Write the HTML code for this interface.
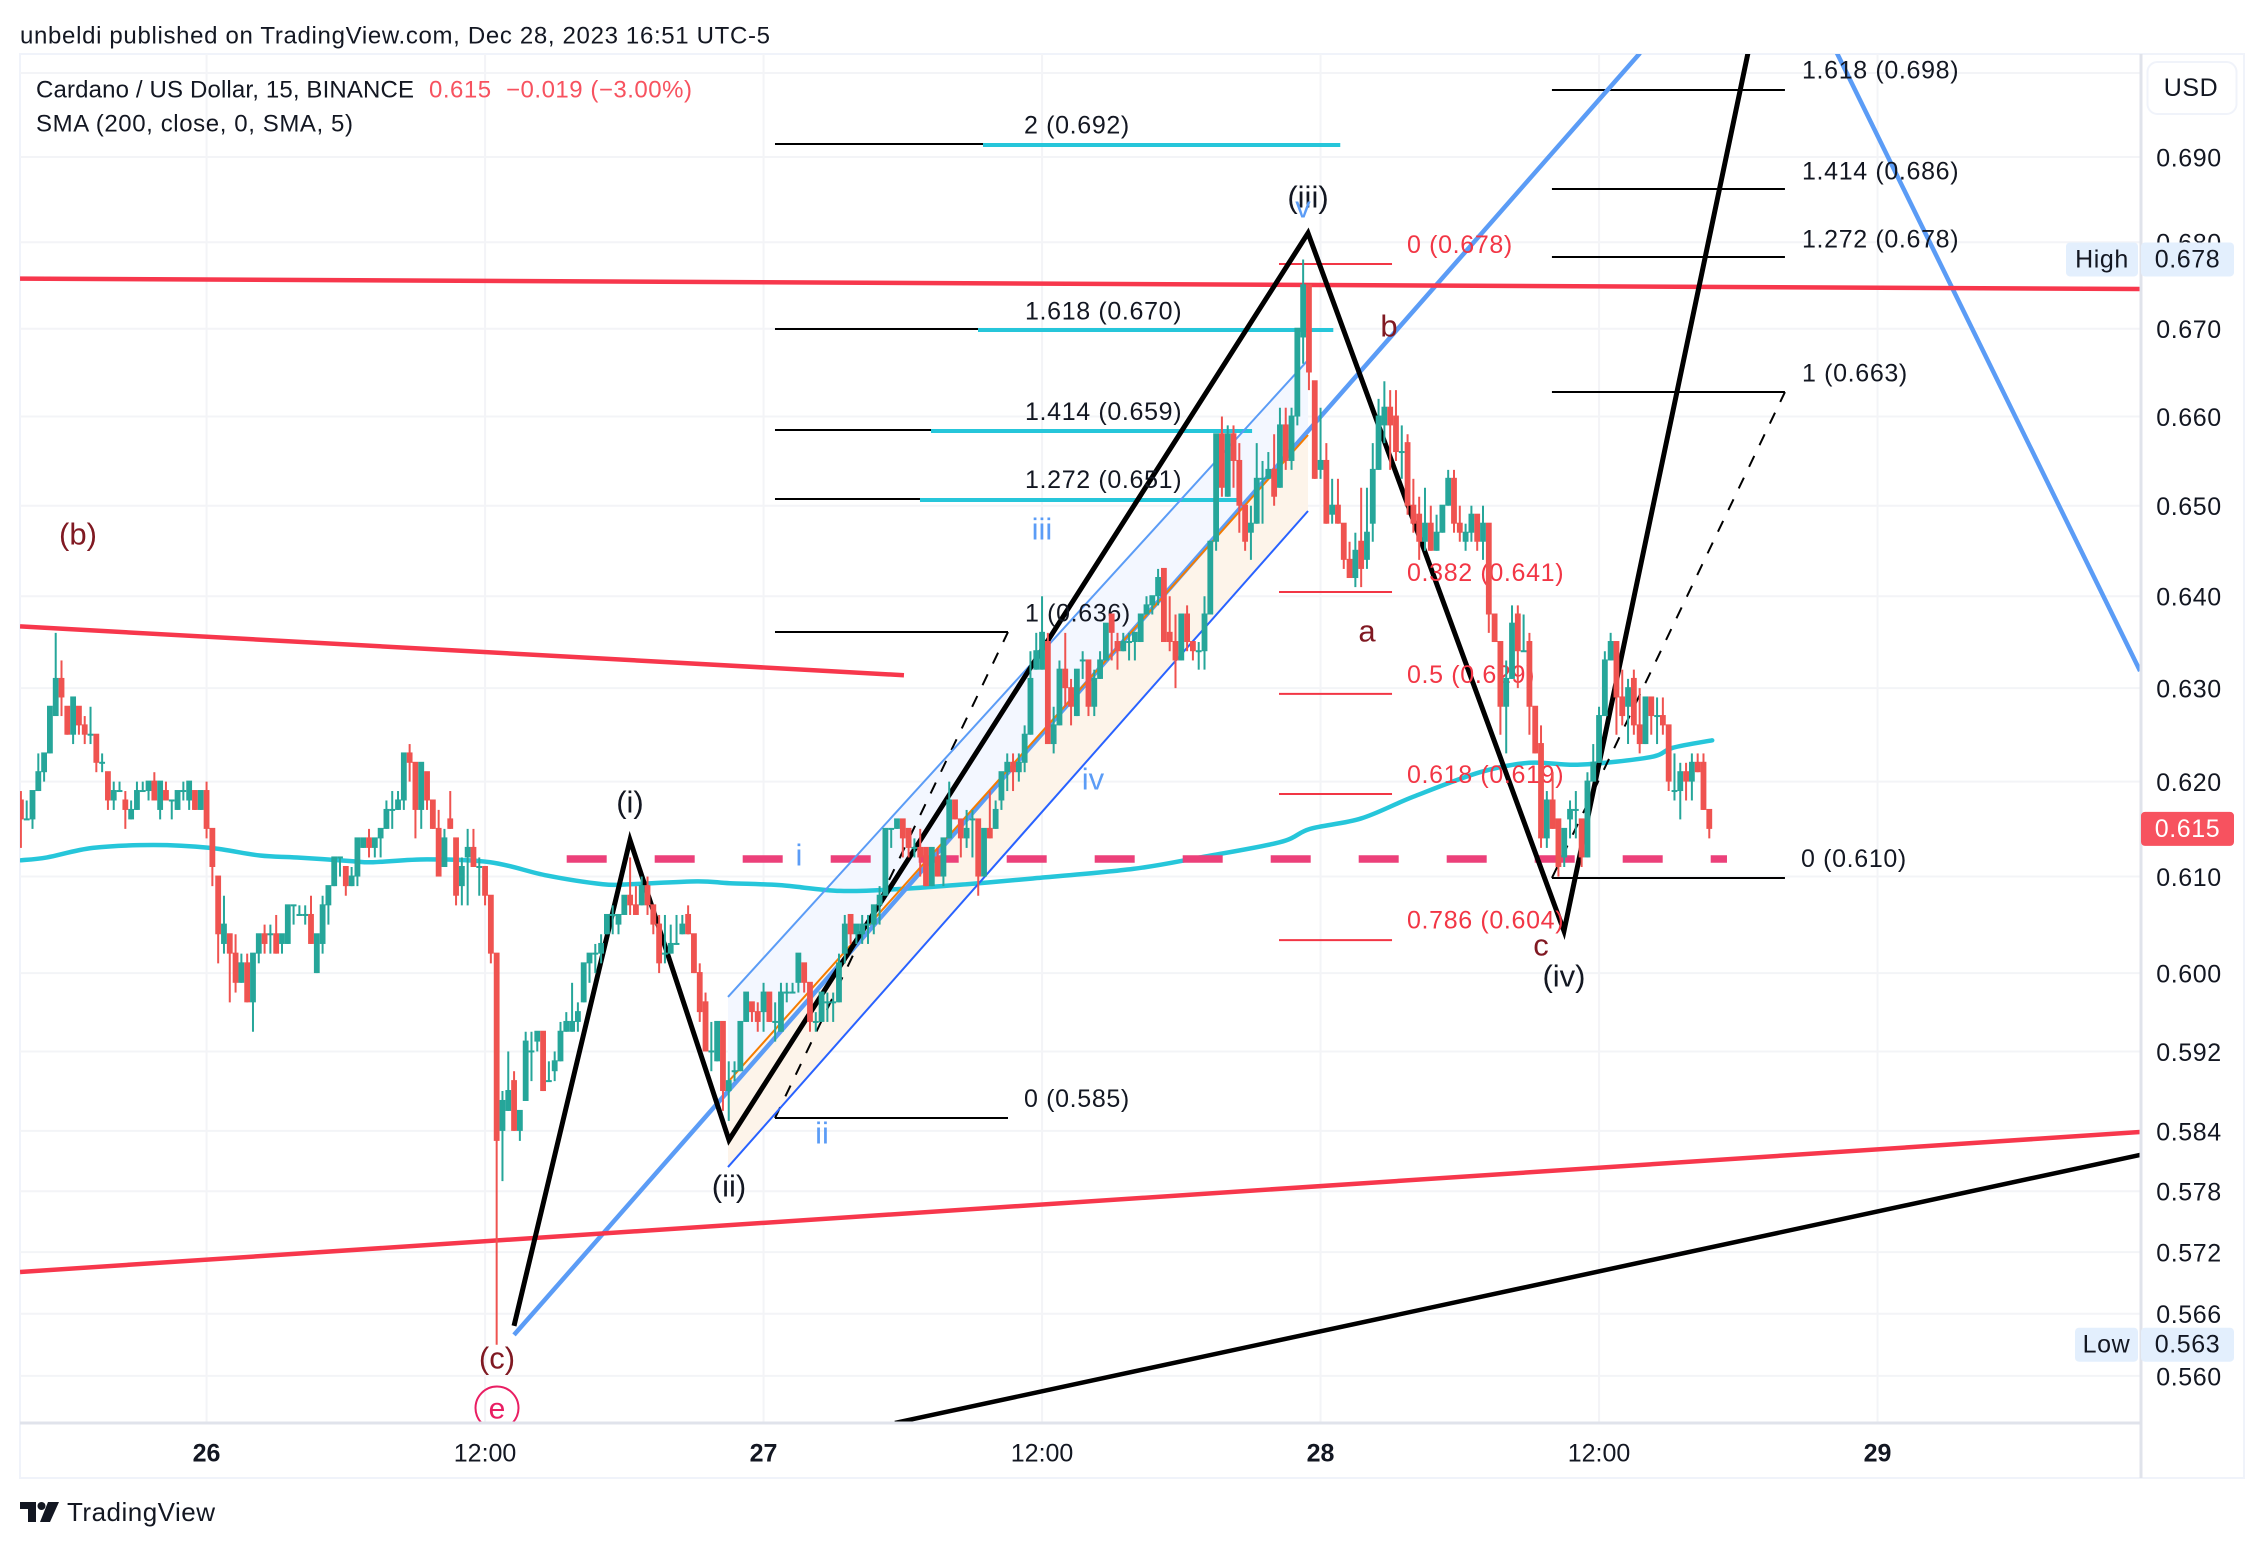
<!DOCTYPE html>
<html lang="en">
<head>
<meta charset="utf-8">
<title>Cardano / US Dollar chart</title>
<style>
html,body{margin:0;padding:0;background:#fff;}
svg{display:block;}
text{font-family:"Liberation Sans",sans-serif;dominant-baseline:central;}
.lab{font-size:25px;letter-spacing:.65px;fill:#131722;}
.fibr{font-size:25px;letter-spacing:.65px;fill:#f23645;}
.wave{font-size:31px;fill:#131722;text-anchor:middle;}
.dred{font-size:31px;fill:#801922;text-anchor:middle;}
.blue{font-size:31px;fill:#5b9cf6;text-anchor:middle;}
.tick{font-size:25px;letter-spacing:.6px;fill:#131722;text-anchor:middle;}
.time{font-size:25px;fill:#131722;text-anchor:middle;}
.head{font-size:24px;fill:#131722;}
</style>
</head>
<body>
<svg id="chart" xmlns="http://www.w3.org/2000/svg" width="2264" height="1548" viewBox="0 0 2264 1548">
  <defs><clipPath id="plot-clip"><rect x="20" y="54" width="2120" height="1369"/></clipPath></defs>
  <rect x="0" y="0" width="2264" height="1548" fill="#ffffff"/>
  <text class="head" x="20" y="36" textLength="750" lengthAdjust="spacing">unbeldi published on TradingView.com, Dec 28, 2023 16:51 UTC-5</text>
  <rect x="20" y="54" width="2224" height="1424" fill="none" stroke="#f0f3fa" stroke-width="2"/>
  <g id="grid"></g>
  <g clip-path="url(#plot-clip)">
    <g id="fills"></g>
    <g id="sma"></g>
    <g id="drawings"></g>
    <g>
      <text class="lab" x="1024" y="125.5">2 (0.692)</text>
      <text class="lab" x="1025" y="311.5">1.618 (0.670)</text>
      <text class="lab" x="1025" y="412">1.414 (0.659)</text>
      <text class="lab" x="1025" y="480">1.272 (0.651)</text>
      <text class="lab" x="1025" y="613.5">1 (0.636)</text>
      <text class="lab" x="1024" y="1099">0 (0.585)</text>
      <text class="lab" x="1802" y="70.5">1.618 (0.698)</text>
      <text class="lab" x="1802" y="171.5">1.414 (0.686)</text>
      <text class="lab" x="1802" y="239.5">1.272 (0.678)</text>
      <text class="lab" x="1802" y="373.5">1 (0.663)</text>
      <text class="lab" x="1801" y="859">0 (0.610)</text>
      <text class="fibr" x="1407" y="245">0 (0.678)</text>
      <text class="fibr" x="1407" y="573">0.382 (0.641)</text>
      <text class="fibr" x="1407" y="675">0.5 (0.629)</text>
      <text class="fibr" x="1407" y="775">0.618 (0.619)</text>
      <text class="fibr" x="1407" y="920.5">0.786 (0.604)</text>
    </g>
    <g>
      <text class="dred" x="78" y="534">(b)</text>
      <text class="dred" x="497" y="1358">(c)</text>
      <circle cx="497" cy="1408" r="21.5" fill="none" stroke="#e91e63" stroke-width="2"/>
      <text x="497" y="1409" font-size="30" fill="#e91e63" text-anchor="middle">e</text>
      <text class="wave" x="630" y="802">(i)</text>
      <text class="wave" x="729" y="1186">(ii)</text>
      <text class="wave" x="1308" y="197">(iii)</text>
      <text class="wave" x="1564" y="976">(iv)</text>
      <text class="dred" x="1367" y="631">a</text>
      <text class="dred" x="1389" y="326">b</text>
      <text class="dred" x="1541" y="945">c</text>
      <text class="blue" x="799" y="855">i</text>
      <text class="blue" x="822" y="1133">ii</text>
      <text class="blue" x="1042" y="529">iii</text>
      <text class="blue" x="1093" y="779">iv</text>
      <text class="blue" x="1303" y="207">v</text>
    </g>
    <g id="candles"></g>
  </g>
  <rect x="20" y="1421.5" width="2121" height="3" fill="#e0e3eb"/>
  <rect x="2139.5" y="54" width="3" height="1424" fill="#e0e3eb"/>
  <g id="price-axis"></g>
  <g id="time-axis"></g>
  <g>
    <text class="head" x="36" y="90" textLength="378" lengthAdjust="spacing">Cardano / US Dollar, 15, BINANCE</text>
    <text class="head" x="429" y="90" textLength="263" lengthAdjust="spacing" fill="#f7525f" style="fill:#f7525f;white-space:pre">0.615  −0.019 (−3.00%)</text>
    <text class="head" x="36" y="124" textLength="317" lengthAdjust="spacing">SMA (200, close, 0, SMA, 5)</text>
  </g>
  <g>
    <rect x="2147.5" y="62" width="89" height="52" rx="10" fill="#ffffff" stroke="#f0f3fa" stroke-width="2"/>
    <text class="tick" x="2191" y="88">USD</text>
  </g>
  <g id="tags"></g>
  <g>
    <path fill="#131722" d="M20 1502H36V1522H28V1509H20ZM48 1502H59L50 1522H40Z"/>
    <circle cx="41.5" cy="1506" r="4" fill="#131722"/>
    <text x="67" y="1512" font-size="26" fill="#131722" textLength="148" lengthAdjust="spacing">TradingView</text>
  </g>
</svg>
<script>
// Candle values in thousandths of a US dollar, one entry per 15-minute bar
const opens = [
618,616,616,619,621,623,627,631,628,625,
628,626,625,625,622,621,618,619,618,616,
617,619,619,620,617,619,618,617,619,618,
619,617,619,615,610,603,604,602,599,601,
597,602,604,604,604,603,603,607,606,606,
606,600,603,607,609,612,611,609,610,613,
614,613,614,615,617,617,618,623,622,617,
621,618,615,611,616,614,609,612,613,611,
611,608,602,584,586,589,584,587,592,593,
594,589,590,591,594,594,595,597,601,602,
602,604,606,605,606,608,607,607,609,607,
605,602,602,603,604,606,604,600,597,592,
591,595,588,590,590,595,597,596,596,598,
595,594,598,598,599,601,599,595,595,597,
597,597,602,606,604,604,605,605,607,608,
615,615,616,615,613,613,613,609,612,610,
614,618,616,614,616,616,610,615,615,618,
621,622,621,622,625,632,632,635,624,626,
632,630,627,633,633,628,631,633,638,635,
634,635,635,635,638,639,640,643,636,635,
633,638,635,634,634,638,646,658,651,658,
655,650,647,648,653,653,654,652,659,655,
660,669,675,664,654,655,649,650,648,644,
642,646,644,648,654,659,661,660,656,657,
650,649,646,648,645,647,650,653,648,646,
647,649,646,648,638,635,628,631,638,634,
635,628,624,614,618,616,612,616,617,616,
612,620,622,627,633,635,629,628,631,626,
624,629,627,627,626,619,619,621,620,622,
622,617];
const highs = [
619,618,619,623,623,628,636,633,628,629,
628,627,628,625,623,621,620,620,619,618,
620,620,620,621,620,620,618,619,620,620,
619,619,620,615,610,608,604,604,602,602,
602,604,605,605,606,604,607,607,607,607,
608,604,608,609,612,612,611,611,614,614,
615,614,615,618,619,619,623,624,622,622,
621,618,617,615,619,614,612,615,615,612,
611,608,602,588,592,590,586,594,594,594,
594,591,592,595,596,599,597,601,602,603,
604,606,607,606,608,612,609,610,610,607,
606,606,605,606,606,607,604,601,598,595,
595,595,591,591,595,598,597,597,599,598,
597,599,599,599,602,601,599,596,598,598,
598,602,606,606,605,606,606,607,609,615,
615,616,616,615,614,615,613,613,613,614,
620,618,616,617,617,616,615,619,618,621,
623,623,623,626,634,636,640,636,628,633,
636,631,632,634,633,632,634,637,638,636,
636,636,636,638,640,640,643,643,640,638,
638,639,635,635,640,646,658,660,659,659,
657,650,650,657,655,656,658,661,661,661,
670,678,675,664,661,657,653,653,648,646,
647,652,652,657,662,664,663,663,659,658,
653,651,652,650,649,650,654,654,650,648,
650,649,650,648,638,635,633,639,639,638,
636,628,626,619,621,616,615,618,619,616,
621,624,628,634,636,635,632,631,632,630,
629,629,629,629,626,623,622,622,623,623,
623,617];
const lows = [
613,616,615,619,620,623,627,627,625,624,
625,624,624,621,621,617,617,619,615,616,
617,619,618,618,616,618,616,617,618,617,
617,617,614,609,601,602,597,598,599,597,
594,601,602,602,602,602,603,605,606,605,
603,600,602,605,609,610,608,609,609,613,
612,612,612,615,615,617,617,620,614,615,
617,615,610,611,615,607,607,607,611,608,
607,601,563,579,586,584,583,587,589,592,
588,589,589,591,594,594,594,597,599,600,
601,604,604,604,606,606,606,607,606,604,
600,601,602,603,604,604,600,595,592,590,
591,586,585,589,590,595,595,594,594,595,
593,594,597,598,598,598,594,594,595,595,
595,597,601,603,603,603,603,604,605,608,
613,615,612,612,612,610,609,609,610,609,
614,616,612,613,612,608,610,614,615,617,
619,619,620,621,625,632,632,624,623,626,
628,626,627,631,627,627,631,633,633,632,
634,633,633,635,638,638,639,635,634,630,
633,634,633,632,632,638,645,651,651,652,
647,645,644,648,648,653,650,652,654,654,
659,666,663,653,653,648,648,648,643,642,
641,641,643,646,654,657,654,655,653,649,
647,644,645,645,645,647,650,647,646,645,
646,645,644,636,635,625,623,631,630,634,
625,623,613,613,615,610,611,614,614,611,
612,620,622,627,633,625,626,624,625,623,
624,625,624,625,619,618,616,618,618,621,
617,614];
const closes = [
616,616,619,621,623,628,631,629,625,629,
626,625,625,622,622,618,619,619,617,617,
619,619,620,618,620,618,618,619,619,620,
617,619,615,611,604,605,602,599,601,597,
602,604,603,604,602,604,607,607,606,606,
603,604,607,609,612,612,609,610,614,614,
613,614,615,617,617,618,623,622,617,622,
618,615,610,614,615,608,611,613,611,611,
608,602,583,587,588,584,586,593,592,594,
588,589,591,594,595,595,596,601,602,602,
603,606,606,606,608,607,606,609,607,605,
601,602,603,603,605,604,600,596,592,592,
595,588,589,590,595,598,596,595,598,595,
595,598,598,598,602,599,595,595,598,597,
597,601,605,604,605,605,605,607,608,615,
615,616,614,613,613,612,609,613,610,614,
618,616,614,615,616,610,615,614,617,621,
622,621,622,625,631,634,636,624,626,632,
630,628,632,633,628,631,633,637,636,634,
635,635,636,638,639,640,642,635,635,633,
638,635,634,634,638,646,658,652,658,655,
650,646,648,653,653,654,651,659,655,660,
670,675,665,653,655,648,650,648,644,642,
645,643,647,654,660,661,659,656,656,650,
648,646,648,645,647,650,653,648,647,647,
649,646,648,638,635,628,631,637,634,634,
628,623,614,618,615,611,615,617,617,612,
620,622,627,633,635,629,627,630,626,624,
629,627,627,626,620,619,621,620,622,621,
617,615];

// 200-period SMA read at sampled bars
const smaBars = [0,4.5,12.4,22.8,32.6,41.2,47.6,57.2,60.7,70,80.9,90.7,100.3,105,116.5,122.2,130.8,141.2,151.5,163,174.4,191.7,203.2,217,222.2,231,240,251.5,260,268.7,280.8,284.7,291.5];
const smaValues = [0.6117,0.612,0.613,0.6133,0.613,0.6122,0.612,0.6116,0.6115,0.6118,0.6115,0.6101,0.6092,0.6092,0.6095,0.6093,0.6091,0.6085,0.6087,0.6092,0.6098,0.6108,0.612,0.6136,0.615,0.6161,0.6184,0.621,0.622,0.6218,0.6226,0.6236,0.6244];

// Axis ticks
const priceTicks = [0.7,0.69,0.68,0.67,0.66,0.65,0.64,0.63,0.62,0.61,0.6,0.592,0.584,0.578,0.572,0.566,0.56];
const timeBars = [32,80,128,176,224,272,320];
const timeLabels = ['26','12:00','27','12:00','28','12:00','29'];
const timeBold = [true,false,true,false,true,false,true];

// Trendlines as [startBar, startPrice, endBar, endPrice]
const topResistance = [-0.15,0.67578,365.25,0.67458];
const fallingResistance = [-0.15,0.6367,152.2,0.6314];
const risingSupport = [-0.15,0.57006,365.25,0.58389];
const blackSupport = [150.65,0.55551,365.25,0.5816];
const blueRising = [84.99,0.56395,279.07,0.7024];
const blueFalling = [313,0.7024,365.25,0.63186];

// Elliott wave zigzag turning points
const waveBars = [84.99,104.98,122.04,221.84,265.96,297.67];
const wavePrices = [0.56482,0.61383,0.58309,0.68107,0.60434,0.7024];

// Regression channel
const channelBars = [121.87,221.84];
const channelTop = [0.59755,0.66642];
const channelMid = [0.58891,0.65792];
const channelBottom = [0.58039,0.64941];

// Fibonacci extension levels (left group)
const fibLeftBars = [129.97,170.13];
const fibLeftPrices = [0.58529,0.63609,0.65075,0.65848,0.66997,0.69154];
const fibLeftCyanStart = [154.96,156.86,164.96,165.82];
const fibLeftCyanEnd = [209.6,212.2,226.2,227.4];
const fibLeftCyanPrices = [0.65064,0.65837,0.66986,0.69142];

// Fibonacci extension levels (right group)
const fibRightBars = [263.88,304.04];
const fibRightPrices = [0.60985,0.66278,0.67828,0.68623,0.69796];

// Retracement levels
const retraceBars = [216.84,236.32];
const retracePrices = [0.67747,0.64046,0.62938,0.61869,0.6034];

// Dashed support level
const dashedLevel = [94.07,0.61184,294.05];

const tagHigh = 0.678;
const tagLow = 0.563;
const tagLast = 0.615;

const BAR0 = 20.9, BAR_W = 5.802, P_REF = 0.69, Y_REF = 157, Y_K = 5839;
function xOf(bar){ return BAR0 + BAR_W * bar; }
function yOf(price){ return Y_REF + Y_K * Math.log(P_REF / price); }

const NS = 'http://www.w3.org/2000/svg';
function mk(tag, parent, attrs){
  const el = document.createElementNS(NS, tag);
  for (const k in attrs) el.setAttribute(k, attrs[k]);
  parent.appendChild(el);
  return el;
}
function seg(parent, name, b1, p1, b2, p2, color, width, dash){
  const attrs = {x1:xOf(b1), y1:yOf(p1), x2:xOf(b2), y2:yOf(p2), stroke:color, 'stroke-width':width};
  if (dash) attrs['stroke-dasharray'] = dash;
  const el = mk('line', parent, attrs);
  
  
  return el;
}

// Grid
const grid = document.getElementById('grid');
priceTicks.forEach(function(p){
  const el = mk('line', grid, {x1:20, x2:2140, y1:yOf(p), y2:yOf(p), stroke:'#f3f4f7', 'stroke-width':2});
  
  
});
timeBars.forEach(function(b){
  const el = mk('line', grid, {x1:xOf(b), x2:xOf(b), y1:54, y2:1423, stroke:'#f3f4f7', 'stroke-width':2});
  
  
});

// Channel fills
const fills = document.getElementById('fills');
function band(upper, lower, color, name){
  const pts = [[channelBars[0],upper[0]],[channelBars[1],upper[1]],[channelBars[1],lower[1]],[channelBars[0],lower[0]]]
    .map(function(q){ return xOf(q[0]) + ',' + yOf(q[1]); }).join(' ');
  const el = mk('polygon', fills, {points:pts, fill:color});
  
  
}
band(channelTop, channelMid, '#f3f7ff', 'channel-upper-fill');
band(channelMid, channelBottom, '#fdf4ea', 'channel-lower-fill');

// SMA, smoothed through the sampled values
const smaG = document.getElementById('sma');
const smaPts = smaBars.map(function(b,i){ return [xOf(b), yOf(smaValues[i])]; });
let smaD = 'M' + smaPts[0][0] + ' ' + smaPts[0][1];
for (let i = 0; i < smaPts.length - 1; i++) {
  const p0 = smaPts[Math.max(0, i-1)], p1 = smaPts[i], p2 = smaPts[i+1], p3 = smaPts[Math.min(smaPts.length-1, i+2)];
  smaD += ' C' + (p1[0] + (p2[0]-p0[0])/6) + ' ' + (p1[1] + (p2[1]-p0[1])/6) + ' ' +
    (p2[0] - (p3[0]-p1[0])/6) + ' ' + (p2[1] - (p3[1]-p1[1])/6) + ' ' + p2[0] + ' ' + p2[1];
}
const smaLine = mk('path', smaG, {d:smaD, fill:'none', stroke:'#26c6da', 'stroke-width':4.5, 'stroke-linecap':'round'});



// Drawings
const dr = document.getElementById('drawings');
seg(dr, 'dashed-support-level', dashedLevel[0], dashedLevel[1], dashedLevel[2], dashedLevel[1], '#ec407a', 7.5, '40 48');
seg(dr, 'fib-left-dashed-leg', fibLeftBars[0], fibLeftPrices[0], fibLeftBars[1], fibLeftPrices[1], '#000000', 2, '12 12');
seg(dr, 'fib-right-dashed-leg', fibRightBars[0], fibRightPrices[0], fibRightBars[1], fibRightPrices[1], '#000000', 2, '12 12');
fibLeftPrices.forEach(function(p){
  seg(dr, 'fib-left-level', fibLeftBars[0], p, fibLeftBars[1], p, '#000000', 2);
});
fibRightPrices.forEach(function(p){
  seg(dr, 'fib-right-level', fibRightBars[0], p, fibRightBars[1], p, '#000000', 2);
});
fibLeftCyanPrices.forEach(function(p,i){
  seg(dr, 'fib-cyan-level', fibLeftCyanStart[i], p, fibLeftCyanEnd[i], p, '#26c6da', 4);
});
retracePrices.forEach(function(p){
  seg(dr, 'retracement-level', retraceBars[0], p, retraceBars[1], p, '#f23645', 2);
});
seg(dr, 'channel-top-line', channelBars[0], channelTop[0], channelBars[1], channelTop[1], '#5b9cf6', 2);
seg(dr, 'channel-bottom-line', channelBars[0], channelBottom[0], channelBars[1], channelBottom[1], '#2962ff', 2);
seg(dr, 'blue-rising-trendline', blueRising[0], blueRising[1], blueRising[2], blueRising[3], '#5b9cf6', 4.5);
seg(dr, 'channel-mid-line', channelBars[0], channelMid[0], channelBars[1], channelMid[1], '#f57c00', 2);
seg(dr, 'blue-falling-trendline', blueFalling[0], blueFalling[1], blueFalling[2], blueFalling[3], '#5b9cf6', 4.5);
seg(dr, 'top-resistance-line', topResistance[0], topResistance[1], topResistance[2], topResistance[3], '#f7374c', 4.5);
seg(dr, 'falling-resistance-line', fallingResistance[0], fallingResistance[1], fallingResistance[2], fallingResistance[3], '#f7374c', 4.5);
seg(dr, 'rising-support-line', risingSupport[0], risingSupport[1], risingSupport[2], risingSupport[3], '#f7374c', 4.5);
seg(dr, 'black-support-line', blackSupport[0], blackSupport[1], blackSupport[2], blackSupport[3], '#000000', 4.5);
const wave = mk('polyline', dr, {
  points: waveBars.map(function(b,i){ return xOf(b) + ',' + yOf(wavePrices[i]); }).join(' '),
  fill:'none', stroke:'#000000', 'stroke-width':5, 'stroke-linejoin':'miter', 'stroke-miterlimit':10
});



// Candles
const candleG = document.getElementById('candles');
opens.forEach(function(o,i){
  const c = closes[i], h = highs[i], l = lows[i];
  const color = c >= o ? '#26a69a' : '#ef5350';
  const cx = xOf(i);
  const wick = mk('line', candleG, {x1:cx, x2:cx, y1:yOf(h/1000), y2:yOf(l/1000), stroke:color, 'stroke-width':2});
  
  
  const top = yOf(Math.max(o,c)/1000);
  const bot = yOf(Math.min(o,c)/1000);
  const body = mk('rect', candleG, {x:cx-2.9, y:top-1, width:5.8, height:Math.max(2,bot-top+1), fill:color});
  
  
});

// Price axis labels
const pa = document.getElementById('price-axis');
priceTicks.forEach(function(p){
  const t = mk('text', pa, {class:'tick', x:2189, y:yOf(p)+1.5});
  t.textContent = p.toFixed(3);
  
  
});

// Time axis labels
const ta = document.getElementById('time-axis');
timeBars.forEach(function(b,i){
  const t = mk('text', ta, {class:'time', x:xOf(b), y:1453.5, 'font-weight':timeBold[i] ? 'bold' : 'normal'});
  t.textContent = timeLabels[i];
  
  
});

// Price tags
const tags = document.getElementById('tags');
function tagBox(x, w, price, fill, text, textColor, name){
  const yc = yOf(price);
  const r = mk('rect', tags, {x:x, y:yc-17, width:w, height:34, rx:4, fill:fill});
  
  
  const t = mk('text', tags, {class:'tick', x:x+w/2, y:yc, style:'fill:' + textColor});
  t.textContent = text;
  
  
}
tagBox(2066, 72, tagHigh, '#e3effd', 'High', '#131722', 'high-label-tag');
tagBox(2141, 93, tagHigh, '#e3effd', tagHigh.toFixed(3), '#131722', 'high-value-tag');
tagBox(2075, 63, tagLow, '#e3effd', 'Low', '#131722', 'low-label-tag');
tagBox(2141, 93, tagLow, '#e3effd', tagLow.toFixed(3), '#131722', 'low-value-tag');
tagBox(2141, 93, tagLast, '#f7525f', tagLast.toFixed(3), '#ffffff', 'last-price-tag');
</script>
</body>
</html>
